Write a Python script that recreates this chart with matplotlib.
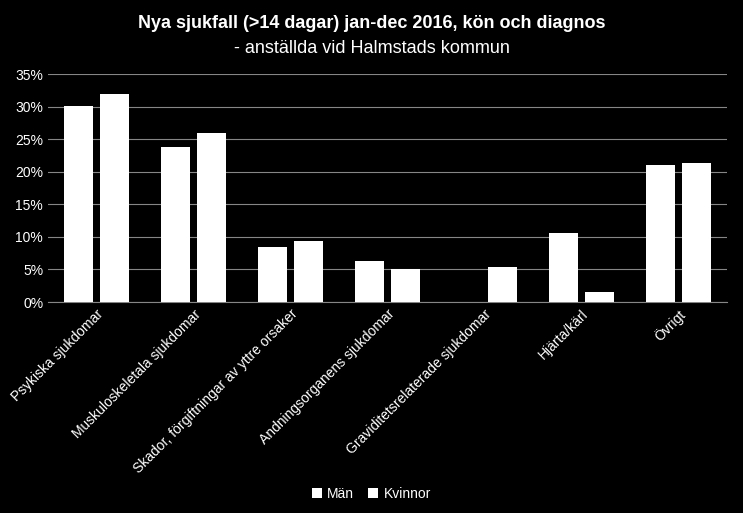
import matplotlib
matplotlib.use("Agg")
import matplotlib.pyplot as plt
import numpy as np
from matplotlib.ticker import FuncFormatter, MultipleLocator

categories = ["Psykiska sjukdomar", "Muskuloskeletala sjukdomar",
              "Skador, förgiftningar av yttre orsaker", "Andningsorganens sjukdomar",
              "Graviditetsrelaterade sjukdomar", "Hjärta/kärl", "Övrigt"]
man = [30.1, 23.8, 8.4, 6.3, 0.0, 10.6, 21.0]
kvinnor = [32.0, 26.0, 9.4, 5.1, 5.4, 1.5, 21.3]

plt.rcParams["font.family"] = "Liberation Sans"
fig = plt.figure(figsize=(7.43, 5.13), dpi=100, facecolor="black")
ax = fig.add_axes([48/743, 1-302/513, 679/743, 228/513], facecolor="black")
x = np.arange(len(categories))
w = 0.3
ax.bar(x - 0.19, man, w, color="white", label="Män", zorder=3)
ax.bar(x + 0.19, kvinnor, w, color="white", label="Kvinnor", zorder=3)
ax.set_xlim(-0.5, len(categories) - 0.5)
ax.set_ylim(0, 35)
ax.yaxis.set_major_locator(MultipleLocator(5))
ax.yaxis.set_major_formatter(FuncFormatter(lambda v, p: f"{v:.0f}%"))
ax.grid(axis="y", color="#868686", linewidth=0.8, zorder=0)
for s in ["top", "right", "left"]:
    ax.spines[s].set_visible(False)
ax.spines["bottom"].set_color("#868686")
ax.tick_params(axis="y", colors="white", labelsize=10, length=0)
ax.tick_params(axis="x", colors="#868686", length=0, labelcolor="white")
ax.set_xticks(x)
ax.set_xticklabels(categories, rotation=45, ha="right", rotation_mode="anchor", fontsize=10)
fig.text(0.5, 0.955, "Nya sjukfall (>14 dagar) jan-dec 2016, kön och diagnos",
         ha="center", va="center", color="white", fontsize=13, fontweight="bold")
fig.text(0.5, 0.905, "- anställda vid Halmstads kommun",
         ha="center", va="center", color="white", fontsize=13)
leg = fig.legend(loc="center", bbox_to_anchor=(0.5, 0.037), ncol=2, frameon=False,
                 fontsize=10, handlelength=0.7, handleheight=0.7, columnspacing=1.0,
                 handletextpad=0.4)
for t in leg.get_texts():
    t.set_color("white")
fig.savefig("out.png", facecolor="black")
